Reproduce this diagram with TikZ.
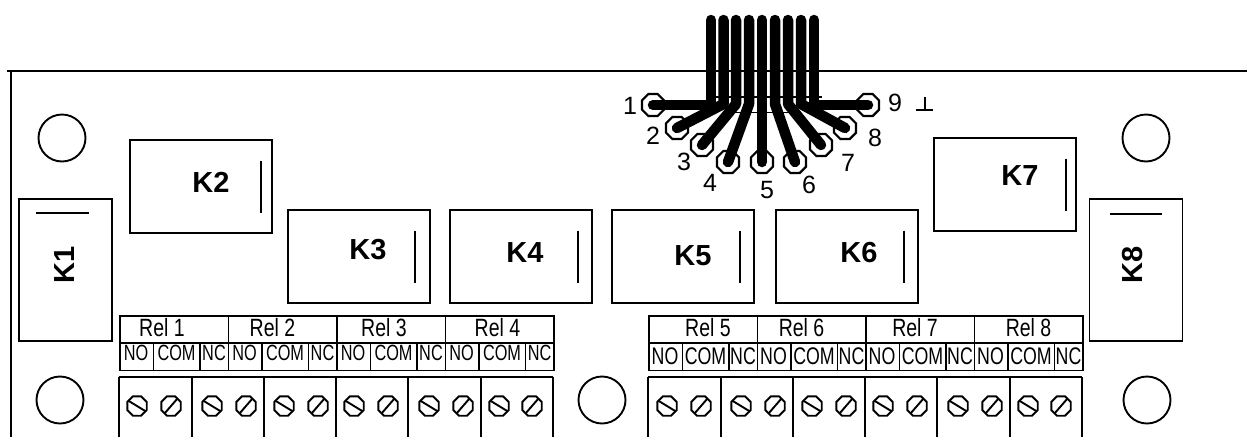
\documentclass[tikz,border=0pt]{standalone}
\usepackage{fontspec}
\setmainfont{Liberation Sans}
\newfontfamily\narrowf[FakeStretch=0.78]{Liberation Sans}
\newfontfamily\narrowg[FakeStretch=0.74]{Liberation Sans}
\usetikzlibrary{shapes.geometric}
\tikzset{
  x=1pt,y=-1pt,
  outline/.style={draw=black,line width=1.9pt},
  relay/.style={outline,fill=white,inner sep=0pt,minimum width=142pt,minimum height=93pt},
  relayv/.style={outline,fill=white,inner sep=0pt,minimum width=93pt,minimum height=142pt},
  mark line/.style={draw=black,line width=1.9pt},
  rname/.style={font=\bfseries\fontsize{29}{29}\selectfont,inner sep=0pt},
  hole/.style={circle,outline,inner sep=0pt,minimum size=47pt},
  screw/.style={regular polygon,regular polygon sides=8,outline,inner sep=0pt,minimum size=21pt},
  pad/.style={regular polygon,regular polygon sides=8,draw=black,fill=white,line width=2.2pt,inner sep=0pt,minimum size=24pt},
  wire/.style={draw=black,line width=10.5pt,line cap=round,line join=round},
  pinlabel/.style={font=\fontsize{25}{25}\selectfont,inner sep=0pt},
  hdr/.style={font=\narrowf\fontsize{25}{25}\selectfont,inner sep=0pt},
  cellL/.style={font=\narrowg\fontsize{22}{22}\selectfont,inner sep=0pt},
  cellR/.style={font=\narrowg\fontsize{24}{24}\selectfont,inner sep=0pt},
}
\begin{document}
\begin{tikzpicture}
\useasboundingbox (0,0) rectangle (1247,437);
% board outline
\coordinate (tl) at (7,71);
\coordinate (tr) at (1247,71);
\coordinate (lt) at (11,71);
\coordinate (lb) at (11,437);
\draw[outline] (tl) -- (tr);
\draw[outline] (lt) -- (lb);
% holes
\foreach \n/\x/\y in {ha/62/138,hb/1146/138,hc/60/400,hd/602/400,he/1147/400}
  \node[hole] (\n) at (\x,\y) {};
% relays
\foreach \n/\x/\y/\l/\tx/\ty in {K2/201/186.5/261/211/182,K3/359/256.5/415/368/250,K4/521/256.5/578/525/253,K5/683/256.5/740/693/256,K6/847/256.5/904/859/253,K7/1005/184.5/1066/1020/176}{
  \node[relay] (\n) at (\x,\y) {};
  \coordinate (\n a) at (\l,\y-26);
  \coordinate (\n b) at (\l,\y+26);
  \draw[mark line] (\n a) -- (\n b);
  \node[rname] (\n t) at (\tx,\ty) {\n};
}
\foreach \n/\x/\ya/\xa/\xb/\tx in {K1/65.5/213/36/89/65,K8/1136/214/1110/1162/1133}{
  \node[relayv] (\n) at (\x,270) {};
  \coordinate (\n a) at (\xa,\ya);
  \coordinate (\n b) at (\xb,\ya);
  \draw[mark line] (\n a) -- (\n b);
  \node[rname,rotate=90] (\n t) at (\tx,265) {\n};
}
% relay contact tables
\foreach \tn/\xo/\yo/\first/\oa/\ob/\oc/\od in {L/119/353/1/43/45/48/53,R/648/356.5/5/60/45/50/55}{
  \foreach \i/\off in {0/\oa,1/\ob,2/\oc,3/\od}{
    \pgfmathsetmacro{\xs}{\xo+108.5*\i}
    \pgfmathtruncatemacro{\num}{\first+\i}
    \node[outline,inner sep=0pt,minimum width=108.5pt,minimum height=27pt,anchor=north west] (\tn h\i) at (\xs,315) {};
    \node[hdr] (\tn ht\i) at (\xs+\off,328) {Rel \num};
    \node[outline,inner sep=0pt,minimum width=33.5pt,minimum height=27.5pt,anchor=north west] (\tn a\i) at (\xs,342) {};
    \node[outline,inner sep=0pt,minimum width=46.5pt,minimum height=27.5pt,anchor=north west] (\tn b\i) at (\xs+33.5,342) {};
    \node[outline,inner sep=0pt,minimum width=28.5pt,minimum height=27.5pt,anchor=north west] (\tn c\i) at (\xs+80,342) {};
    \node[cell\tn] (\tn at\i) at (\xs+17,\yo) {NO};
    \node[cell\tn] (\tn bt\i) at (\xs+57.5,\yo) {COM};
    \node[cell\tn] (\tn ct\i) at (\xs+95,\yo) {NC};
  }
}
% terminal blocks (cut off at the bottom)
\coordinate (LTa) at (119,377);
\coordinate (LTb) at (553,377);
\coordinate (RTa) at (648,377);
\coordinate (RTb) at (1082,377);
\draw[outline] (LTa) -- (LTb);
\draw[outline] (RTa) -- (RTb);
\foreach \x [count=\i] in {119,192,264,336,408,481,553,648,721,793,865,937,1010,1082}{
  \coordinate (dt\i) at (\x,377);
  \coordinate (db\i) at (\x,437);
  \draw[outline] (dt\i) -- (db\i);
}
% screws
\foreach \xa/\xb [count=\i] in {137/171,212/246,284/318,354/388,429/463,499/532,667/701,741/775,812/846,883/917,958/992,1028/1061}{
  \node[screw] (sa\i) at (\xa,406) {};
  \node[screw] (sb\i) at (\xb,406) {};
  \draw[outline] (sa\i.center) ++(-9,-5.5) coordinate (sap\i) -- ++(18,11);
  \draw[outline] (sb\i.center) ++(-6.5,7.5) coordinate (sbp\i) -- ++(13,-15);
}
% connector body
\coordinate (ca) at (714,97);
\coordinate (cb) at (822,97);
\coordinate (cc) at (732,112.5);
\coordinate (cd) at (792,112.5);
\draw[outline] (ca) -- (cb);
\draw[outline] (cc) -- (cd);
% pads
\foreach \n/\x/\y in {p1/653/105,p2/677/128,p3/702/145,p4/728/162,p5/762/162,p6/795/162,p7/821/145,p8/845/128,p9/868/105}
  \node[pad] (\n) at (\x,\y) {};
% top of the ribbon
\foreach \i/\x/\yb in {1/711/105,2/723.5/104,3/736/104,4/749/104,5/762/162,6/775/104,7/788/104,8/801/104,9/814/105}{
  \coordinate (t\i) at (\x,20);
  \coordinate (b\i) at (\x,\yb);
}
% wires
\draw[wire] (t1) -- (b1) -- (p1.center);
\draw[wire] (t2) -- (b2) -- (p2.center);
\draw[wire] (t3) -- (b3) -- (p3.center);
\draw[wire] (t4) -- (b4) -- (p4.center);
\draw[wire] (t5) -- (p5.center);
\draw[wire] (t6) -- (b6) -- (p6.center);
\draw[wire] (t7) -- (b7) -- (p7.center);
\draw[wire] (t8) -- (b8) -- (p8.center);
\draw[wire] (t9) -- (b9) -- (p9.center);
% pin labels
\foreach \n/\t/\x/\y in {l1/1/630/106,l2/2/653/136,l3/3/684/162,l4/4/710/183,l5/5/767/190,l6/6/809/185,l7/7/848/163,l8/8/875/138,l9/9/895/103}
  \node[pinlabel] (\n) at (\x,\y) {\t};
\coordinate (gnda) at (925,97);
\coordinate (gndb) at (925,110);
\coordinate (gndc) at (916,110);
\coordinate (gndd) at (933,110);
\draw[line width=1.5pt] (gnda) -- (gndb) (gndc) -- (gndd);
\end{tikzpicture}
\end{document}
